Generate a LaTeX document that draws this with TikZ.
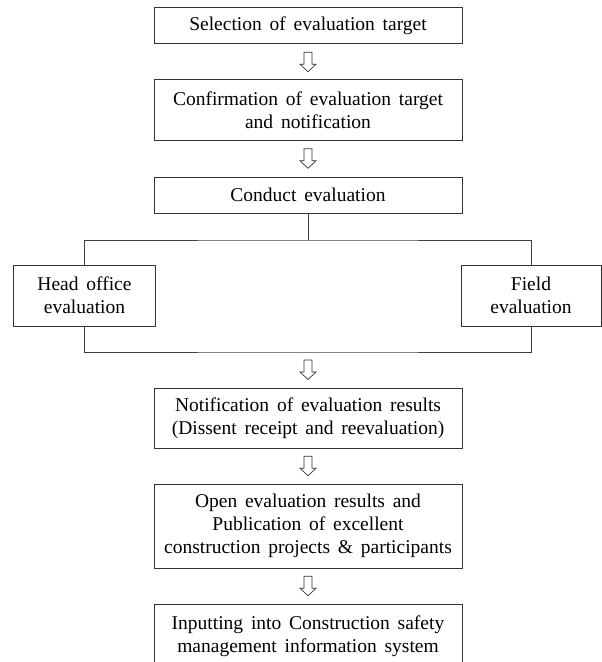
\documentclass[tikz,border=0pt]{standalone}
\usepackage{fontspec}
\setmainfont{Liberation Serif}[WordSpace={1.6,1,1}]
\usetikzlibrary{calc}
\newcommand\boxfont{\fontsize{19.5bp}{23bp}\selectfont}
\begin{document}
\begin{tikzpicture}[x=1bp,y=-1bp,
  box/.style={draw=black!80, line width=1bp, fill=white, align=center, inner sep=0pt,
    font=\boxfont, text=black},
  link/.style={draw=black!75, line width=1bp},
  harrow/.pic={\draw[line width=0.7bp, draw=black!80, line join=miter]
     (-4,-9.75) -- (4,-9.75) -- (4,2.25) -- (8,2.25) -- (0,9.75) -- (-8,2.25) -- (-4,2.25) -- cycle;}
]
\useasboundingbox (0,0) rectangle (602,662);

\node[box, minimum width=308bp, minimum height=36bp] (s1) at (308,26) {Selection of evaluation target};
\node[box, minimum width=308bp, minimum height=60bp] (s2) at (308,110) {Confirmation of evaluation target\\and notification};
\node[box, minimum width=308bp, minimum height=36bp] (s3) at (308,195) {Conduct evaluation};
\node[box, minimum width=141bp, minimum height=61bp] (ho) at (84.5,295.5) {Head office\\evaluation};
\node[box, minimum width=140bp, minimum height=61bp] (fe) at (531,295.5) {Field\\evaluation};
\node[box, minimum width=308bp, minimum height=60bp] (n1) at (308,418) {Notification of evaluation results\\(Dissent receipt and reevaluation)};
\node[box, minimum width=308bp, minimum height=84bp] (op) at (308,526) {Open evaluation results and\\Publication of excellent\\construction projects \& participants};
\node[box, minimum width=308bp, minimum height=64bp] (in) at (308,636) {Inputting into Construction safety\\management information system};

\coordinate (bt) at (308,240);
\coordinate (bb) at (308,352);

\draw[link] (s3.south) -- (bt);
\draw[link] (ho.north) |- (bt) -| (fe.north);
\draw[link] (ho.south) |- (bb) -| (fe.south);

\pic at ($(s1.south)!0.5!(s2.north)$) {harrow};
\pic at ($(s2.south)!0.5!(s3.north)$) {harrow};
\pic at ($(bb)!0.5!(n1.north)$) {harrow};
\pic at ($(n1.south)!0.5!(op.north)$) {harrow};
\pic at ($(op.south)!0.5!(in.north)$) {harrow};
\end{tikzpicture}
\end{document}
